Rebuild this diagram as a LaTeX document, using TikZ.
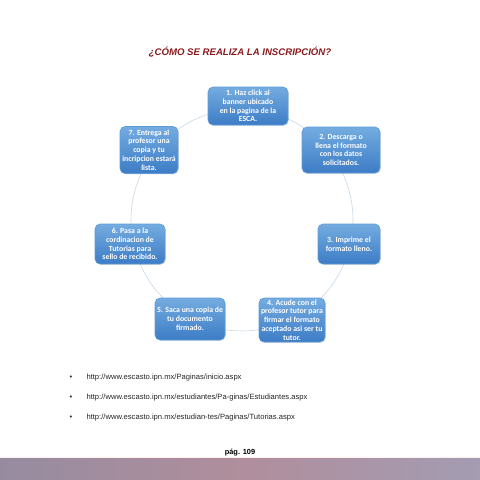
\documentclass[tikz,border=0pt]{standalone}
\usepackage{fontspec}
\setmainfont{Liberation Sans}
\newfontfamily\boxfont{Carlito}
\usepackage{xcolor}
\usetikzlibrary{positioning,shadows}

\definecolor{titlered}{HTML}{8A1A1E}
\definecolor{boxtop}{HTML}{74ACE0}
\definecolor{boxbot}{HTML}{3D7CC6}
\definecolor{boxline}{HTML}{5E9CD8}
\definecolor{ringcol}{HTML}{CAD8E6}
\definecolor{barleft}{HTML}{968CA0}
\definecolor{barmid}{HTML}{B08E9C}
\definecolor{barright}{HTML}{A39CB2}

\begin{document}
\begin{tikzpicture}[
  x=1pt, y=-1pt,
  stepbox/.style={draw=boxline, line width=0.6pt, rounded corners=5pt,
    top color=boxtop, bottom color=boxbot, text=white, align=center,
    font=\boxfont\bfseries\fontsize{7.8}{8.8}\selectfont, inner sep=1.5pt,
    drop shadow={opacity=0.2, shadow xshift=0.8pt, shadow yshift=-0.8pt}},
  ring/.style={draw=ringcol, line width=0.6pt},
  link/.style={font=\fontsize{7.6}{9}\selectfont, anchor=west, text=black!85},
  dot/.style={font=\fontsize{7.6}{9}\selectfont, text=black!85},
]
\useasboundingbox (0,0) rectangle (480,480);
\fill[white] (0,0) rectangle (480,480);

\node[font=\bfseries\itshape\fontsize{9.6}{11}\selectfont, text=titlered] (title) at (240,52)
  {¿CÓMO SE REALIZA LA INSCRIPCIÓN?};

% cycle ring behind the steps
\coordinate (ctr) at (242,220);
\draw[ring] (ctr) circle[radius=111];

\node[stepbox, minimum width=80pt, minimum height=38pt] (s1) at (248,106)
  {1. Haz click al\\banner ubicado\\en la pagina de la\\ESCA.};
\node[stepbox, minimum width=78pt, minimum height=46pt] (s2) at (341,150)
  {2. Descarga o\\llena el formato\\con los datos\\solicitados.};
\node[stepbox, minimum width=62pt, minimum height=40pt] (s3) at (349,244)
  {3. Imprime el\\formato lleno.};
\node[stepbox, minimum width=66pt, minimum height=44pt] (s4) at (292,320)
  {4. Acude con el\\profesor tutor para\\firmar el formato\\aceptado asi ser tu\\tutor.};
\node[stepbox, minimum width=70pt, minimum height=42pt] (s5) at (190,319)
  {5. Saca una copia de\\tu documento\\firmado.};
\node[stepbox, minimum width=70pt, minimum height=40pt] (s6) at (130,244)
  {6. Pasa a la\\cordinacion de\\Tutorias para\\sello de recibido.};
\node[stepbox, minimum width=58pt, minimum height=47pt] (s7) at (149,150)
  {7. Entrega al\\profesor una\\copia y tu\\incripcion estará\\lista.};

% links
\node[dot] (d1) at (71,378) {•};
\node[link] (u1) at (83,378) {http://www.escasto.ipn.mx/Paginas/inicio.aspx};
\node[dot] (d2) at (71,398) {•};
\node[link] (u2) at (83,398) {http://www.escasto.ipn.mx/estudiantes/Pa-ginas/Estudiantes.aspx};
\node[dot] (d3) at (71,418) {•};
\node[link] (u3) at (83,418) {http://www.escasto.ipn.mx/estudian-tes/Paginas/Tutorias.aspx};

% footer
\shade[left color=barleft, right color=barright, middle color=barmid] (0,458) rectangle (480,480);
\fill[pink!40, opacity=0.6] (0,456.5) rectangle (480,458);
\node[font=\bfseries\fontsize{7.4}{8}\selectfont] (pag) at (240,453) {pág. 109};
\end{tikzpicture}
\end{document}
